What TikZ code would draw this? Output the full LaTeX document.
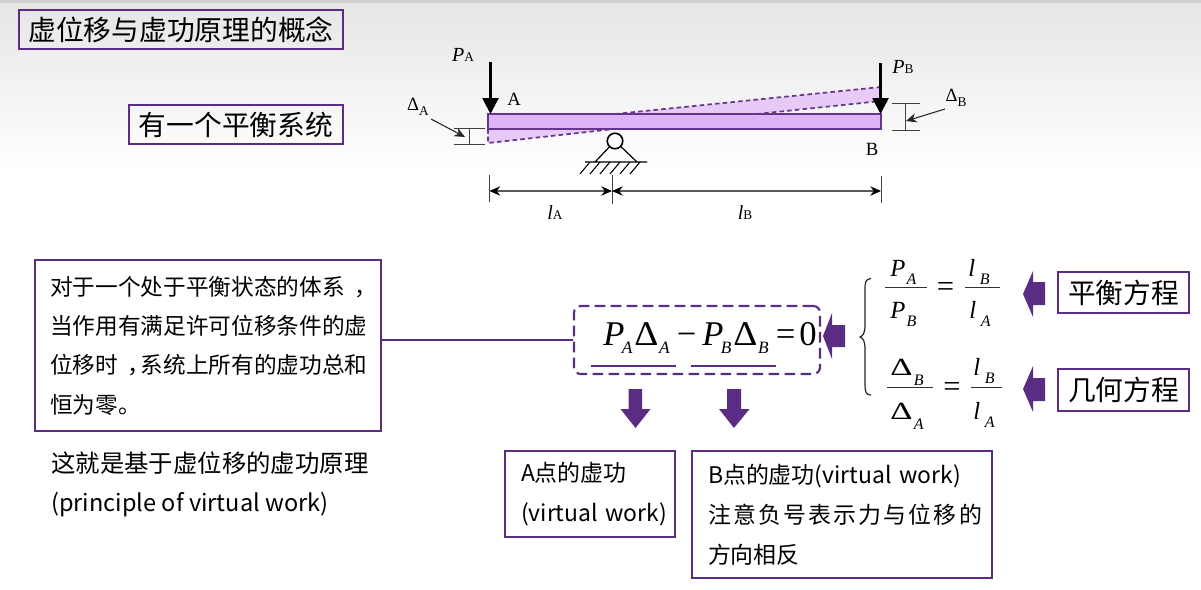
\documentclass[tikz,border=0pt]{standalone}
\usepackage{graphicx}
\usepackage{fontspec}
\setmainfont{Liberation Serif}
\newfontfamily\cjk{Noto Sans CJK SC}
\usetikzlibrary{arrows.meta,calc}
\definecolor{pur}{HTML}{5B2C83}
\definecolor{beamfill}{HTML}{DFB3F7}
\definecolor{wedgefill}{HTML}{E7CBF6}
\definecolor{beamedge}{HTML}{65368C}
% beam labels
\newcommand{\lab}[2]{{\fontsize{15}{16}\selectfont\textit{#1}}{\fontsize{10}{11}\selectfont #2}}
\newcommand{\dlab}[1]{{\fontsize{14}{16}\selectfont Δ}\raisebox{-3.5pt}{\fontsize{10}{11}\selectfont #1}}
% main equation terms
\newcommand{\mainP}[1]{\textit{P}\kern-2pt\raisebox{-6.7pt}{\fontsize{13}{14}\selectfont\textit{#1}}}
\newcommand{\mainD}[1]{\scalebox{1.08}[1]{Δ}\kern0.5pt\raisebox{-6.7pt}{\fontsize{13}{14}\selectfont\textit{#1}}}
% fraction terms
\newcommand{\fsub}[1]{{\fontsize{12}{13}\selectfont\textit{#1}}}
\newcommand{\fracP}[1]{\textit{P}\kern1pt\raisebox{-6.3pt}{\fsub{#1}}}
\newcommand{\fracL}[1]{\textit{l}\kern3.5pt\raisebox{-6.3pt}{\fsub{#1}}}
\newcommand{\fracD}[1]{\scalebox{1.4}[1]{Δ}\kern1pt\raisebox{-8pt}{\fsub{#1}}}
\newcommand{\cma}{\makebox[1em][l]{\hspace{.42em}，}}
\tikzset{
  purbox/.style={draw=pur,line width=1.5pt,inner sep=0pt,font=\cjk},
  titlefont/.style={font=\cjk\fontsize{20.8}{24}\selectfont},
  bodybox/.style={draw=pur,line width=1.4pt,inner xsep=11.25pt,inner ysep=0pt,align=left,
     font=\cjk\fontsize{17}{29.5}\selectfont},
  lowerbox/.style={draw=pur,line width=1.4pt,inner xsep=12pt,inner ysep=0pt,align=left,
     font=\cjk\fontsize{17.2}{30}\selectfont},
  bodytxt/.style={inner sep=0pt,align=left,font=\cjk\fontsize{18.3}{29}\selectfont},
  maineqn/.style={inner sep=0pt,anchor=base west,font=\fontsize{26}{28}\selectfont},
  eqn/.style={inner sep=0pt,anchor=base west,font=\fontsize{18.5}{22}\selectfont},
  eqsign/.style={inner sep=0pt,anchor=base,font=\fontsize{23}{24}\selectfont},
  beamlab/.style={inner sep=0pt,font=\fontsize{14}{16}\selectfont},
  blockarrow/.style={fill=pur,draw=none},
  dim/.style={draw=black!75,line width=0.75pt},
  thin arrow/.style={draw=black!85,line width=0.8pt,-{Stealth[length=8pt,width=7pt]}},
  dimarrow/.style={draw=black!65,line width=1pt,{Stealth[length=8pt,width=7pt,black]}-{Stealth[length=8pt,width=7pt,black]}},
  dashedge/.style={draw=beamedge,line width=1.3pt,dash pattern=on 3.4pt off 2.4pt},
  rulefrac/.style={draw=black!80,line width=0.75pt},
}
\begin{document}
\begin{tikzpicture}[x=0.75pt,y=-0.75pt]
\useasboundingbox (0,0) rectangle (1201,589);
\shade[top color=black!10,bottom color=white] (0,0) rectangle (1201,172);
\fill[black!18] (0,0) rectangle (1201,3);
% wedges
\fill[wedgefill] (488,129) -- (488,143) -- (614,129) -- cycle;
\fill[wedgefill] (615,114) -- (881,87) -- (881,101) -- (757,114) -- cycle;
\draw[dashedge] (488,129) -- (488,143) -- (614,129);
\draw[dashedge] (615,114) -- (881,87) -- (881,101) -- (757,114);
% beam
\node[draw=beamedge,line width=1.2pt,fill=beamfill,minimum width=393*0.75pt,minimum height=15*0.75pt,inner sep=0pt] (beam) at (684.5,121.5) {};
% support
\coordinate (gl) at (585,162);
\coordinate (gr) at (647,162);
\coordinate (tl) at (595,162);
\coordinate (tr) at (637,162);
\draw[black,line width=0.9pt] (tl) -- (615,141) -- (tr) (gl) -- (gr);
\node[circle,draw=black,line width=1.2pt,fill=white,minimum size=15.5*0.75pt,inner sep=0pt] (pin) at (615,141) {};
\foreach \x in {590,600,610,620,630,640}
  \draw[black,line width=0.8pt] (\x,162) -- ++(-10,12);
% loads
\coordinate (pa) at (490.5,62);
\coordinate (pae) at (490.5,114);
\coordinate (pb) at (880.5,63);
\coordinate (pbe) at (880.5,114);
\draw[black,line width=2pt,-{Triangle[length=12pt,width=12pt]}] (pa) -- (pae);
\draw[black,line width=2pt,-{Triangle[length=12pt,width=12pt]}] (pb) -- (pbe);
% delta A
\coordinate (da1) at (454,128.5);
\coordinate (da2) at (485,128.5);
\coordinate (da3) at (454,144.5);
\coordinate (da4) at (485,144.5);
\coordinate (da5) at (469.5,128.5);
\coordinate (da6) at (469.5,144.5);
\draw[dim] (da1) -- (da2) (da3) -- (da4) (da5) -- (da6);
\coordinate (dao) at (431,119);
\coordinate (dat) at (465,137);
\draw[thin arrow] (dao) -- (dat);
% delta B
\coordinate (db1) at (892,103);
\coordinate (db2) at (920,103);
\coordinate (db3) at (892,130);
\coordinate (db4) at (920,130);
\coordinate (db5) at (905.5,103);
\coordinate (db6) at (905.5,130);
\draw[dim] (db1) -- (db2) (db3) -- (db4) (db5) -- (db6);
\coordinate (dbo) at (945,109);
\coordinate (dbt) at (906,121);
\draw[thin arrow] (dbo) -- (dbt);
% dimension
\coordinate (e1a) at (489.5,175);
\coordinate (e1b) at (489.5,202);
\coordinate (e2a) at (612,175);
\coordinate (e2b) at (612,204);
\coordinate (e3a) at (881,176);
\coordinate (e3b) at (881,203);
\coordinate (d1) at (489.5,191);
\coordinate (d2) at (612,191);
\coordinate (d3) at (881,191);
\draw[dim] (e1a) -- (e1b) (e2a) -- (e2b) (e3a) -- (e3b);
\draw[dimarrow] (d1) -- (d2);
\draw[dimarrow] (d2) -- (d3);
% beam labels
\node[beamlab] (lpa) at (463,55) {\lab{P}{A}};
\node[beamlab] (la) at (514,99) {A};
\node[beamlab] (lda) at (418,107) {\dlab{A}};
\node[beamlab] (lb) at (872,149) {B};
\node[beamlab] (lpb) at (903,67) {\lab{P}{B}};
\node[beamlab] (ldb) at (956,98) {\dlab{B}};
\node[beamlab] (lla) at (555,213) {\lab{l}{A}};
\node[beamlab] (llb) at (745,213) {\lab{l}{B}};
% titles
\node[purbox,titlefont,minimum width=324*0.75pt,minimum height=39*0.75pt] (title) at (181,29.5) {虚位移与虚功原理的概念\hspace{6pt}};
\node[purbox,titlefont,minimum width=214*0.75pt,minimum height=39*0.75pt] (sys) at (236,124.5) {有一个平衡系统\hspace{2pt}};
% left text
\node[bodybox,text width=316*0.75pt,minimum height=171*0.75pt] (princ) at (208,345.5) {对于一个处于平衡状态的体系\cma\\当作用有满足许可位移条件的虚\\位移时\cma 系统上所有的虚功总和\\恒为零。};
\node[bodytxt,anchor=north west] (conc) at (51,452) {这就是基于虚位移的虚功原理\\{\fontsize{17.65}{29}\selectfont (principle of virtual work)}};
% main equation
\node[draw=pur,line width=1.6pt,dash pattern=on 8pt off 4pt,rounded corners=5pt,minimum width=246*0.75pt,minimum height=68*0.75pt,inner sep=0pt] (eqbox) at (697,340) {};
\node[maineqn] (termA) at (603,345) {\mainP{A}\kern1.5pt\mainD{A}};
\node[maineqn] (minus) at (676.5,345) {−};
\node[maineqn] (termB) at (702,345) {\mainP{B}\kern1.5pt\mainD{B}};
\node[maineqn] (eqs) at (775.5,345) {=};
\node[maineqn] (zero) at (799,345) {0};
\coordinate (ua1) at (590.5,366);
\coordinate (ua2) at (676,366);
\coordinate (ub1) at (691,366);
\coordinate (ub2) at (776,366);
\draw[pur,line width=1.5pt] (ua1) -- (ua2) (ub1) -- (ub2);
\draw[pur,line width=1.5pt] (princ.east |- eqbox.west) -- (eqbox.west);
% block arrows
\fill[blockarrow] (628.5,389) -- (642,389) -- (642,409) -- (650.5,409) -- (635.5,428) -- (620.5,409) -- (628.5,409) -- cycle;
\fill[blockarrow] (727,389) -- (741,389) -- (741,409) -- (749.5,409) -- (734,428) -- (719,409) -- (727,409) -- cycle;
\fill[blockarrow] (845,325) -- (845,347) -- (832,347) -- (832,359) -- (823,336) -- (832,313) -- (832,325) -- cycle;
\fill[blockarrow] (1045,282) -- (1045,305) -- (1033,305) -- (1033,317) -- (1023,294) -- (1033,271) -- (1033,282) -- cycle;
\fill[blockarrow] (1045,378) -- (1045,401) -- (1033,401) -- (1033,412) -- (1023,389) -- (1033,366) -- (1033,378) -- cycle;
% fractions
\node[eqn] (f1n) at (890,276) {\fracP{A}};
\node[eqn] (f1d) at (890,318) {\fracP{B}};
\node[eqsign] (f1e) at (945.5,296) {=};
\node[eqn] (f2n) at (968,276) {\fracL{B}};
\node[eqn] (f2d) at (969,318) {\fracL{A}};
\draw[rulefrac] (885,287.5) -- (926.5,287.5) (965,287.5) -- (1000,287.5);
\node[eqn] (f3n) at (890,375) {\fracD{B}};
\node[eqn] (f3d) at (890,419) {\fracD{A}};
\node[eqsign] (f3e) at (952,396) {=};
\node[eqn] (f4n) at (973,375.5) {\fracL{B}};
\node[eqn] (f4d) at (973,419) {\fracL{A}};
\draw[rulefrac] (887,387.5) -- (932.5,387.5) (971,387.5) -- (1002,387.5);
% brace
\draw[black!85,line width=0.9pt] (871,278.5) .. controls (865,279) and (865,283) .. (865,290) -- (865,325) .. controls (865,333) and (863,336) .. (860,337) .. controls (863,338) and (865,341) .. (865,349) -- (865,385) .. controls (865,392) and (866,395) .. (871,395);
% equation labels
\node[purbox,titlefont,minimum width=131*0.75pt,minimum height=41*0.75pt] (bal) at (1123.5,292.5) {平衡方程};
\node[purbox,titlefont,minimum width=131*0.75pt,minimum height=42*0.75pt] (geo) at (1123.5,390) {几何方程};
% bottom boxes
\node[lowerbox,text width=138*0.75pt,minimum height=86*0.75pt] (abox) at (590,494) {A点的虚功\\\mbox{(virtual work)}};
\node[lowerbox,text width=268*0.75pt,minimum height=127*0.75pt] (bbox) at (842,514.5) {B点的虚功(virtual work)\\\leavevmode\hbox to 205.5pt{注\hfil 意\hfil 负\hfil 号\hfil 表\hfil 示\hfil 力\hfil 与\hfil 位\hfil 移\hfil 的}\\方向相反};
\end{tikzpicture}
\end{document}
